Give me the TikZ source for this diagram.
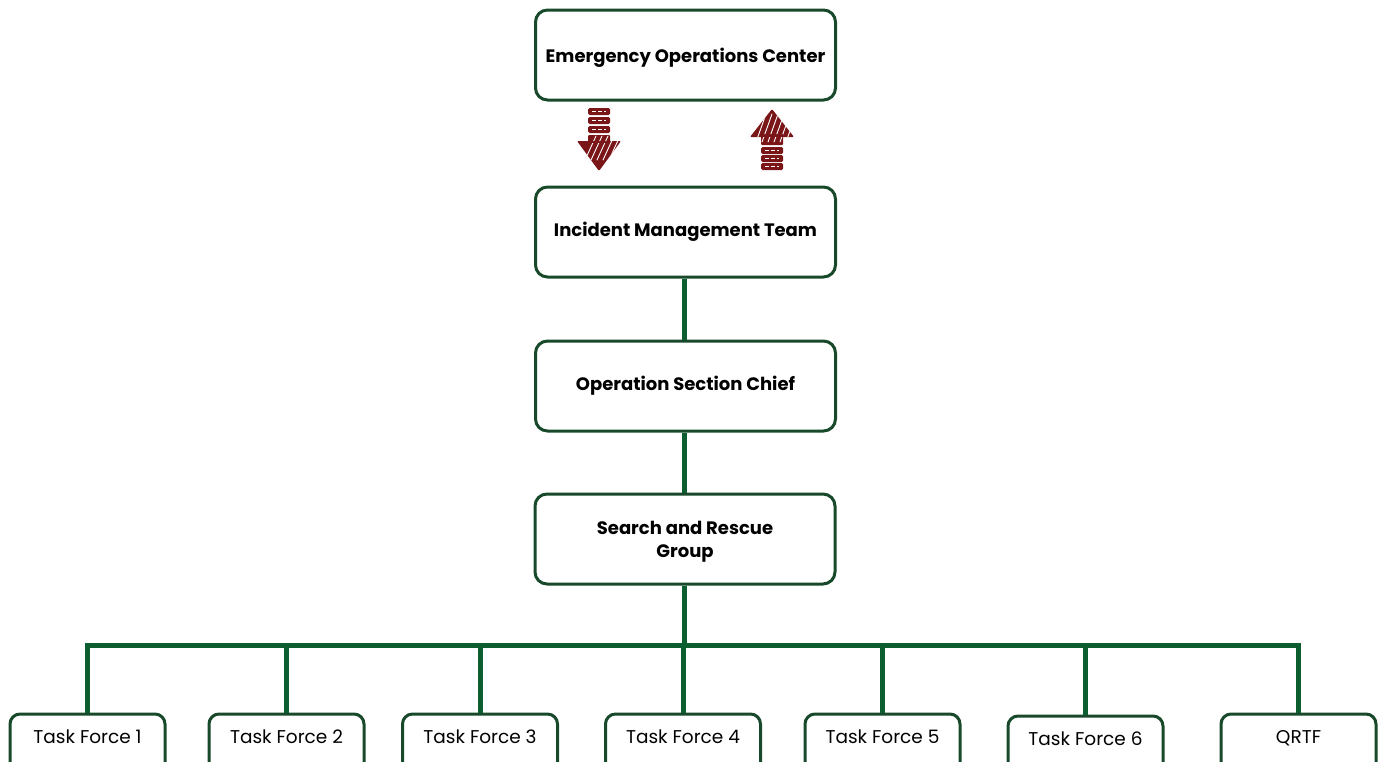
\documentclass[tikz,border=0pt]{standalone}
\usepackage{fontspec}
\setmainfont{Poppins}
\definecolor{boxgreen}{HTML}{17492A}
\definecolor{linkgreen}{HTML}{0C5E31}
\definecolor{arrowred}{HTML}{7A1518}
\tikzset{
  unitbox/.style={draw=boxgreen, line width=3pt, rounded corners=12pt, fill=white,
    minimum width=300pt, minimum height=90pt, align=center, inner sep=0pt,
    font=\bfseries\fontsize{18}{23}\selectfont},
  taskbox/.style={draw=boxgreen, line width=3pt, rounded corners=10pt, fill=white,
    minimum width=155pt, minimum height=60pt, inner sep=0pt,
    text height=12pt, text depth=14pt, font=\fontsize{18.5}{20}\selectfont},
  link/.style={draw=linkgreen, line width=5pt},
  hatch/.style={white, line width=0.9pt, line cap=round},
  dash line/.style={white, line width=0.6pt, dash pattern=on 4pt off 2pt},
}
\begin{document}
\begin{tikzpicture}[x=1pt, y=-1pt]
\useasboundingbox (0,0) rectangle (1381,761);
\clip (0,0) rectangle (1381,761);

% command chain
\node[unitbox, text depth=0pt] (eoc) at (685.5,55)  {Emergency Operations Center};
\node[unitbox] (imt) at (685.5,232) {Incident Management Team};
\node[unitbox] (osc) at (685.5,386) {Operation Section Chief};
\node[unitbox, text depth=0pt] (srg) at (685,539)   {Search and Rescue\\Group};

% field units
\node[taskbox] (tf1)  at (87.5,744)   {Task Force 1};
\node[taskbox] (tf2)  at (286.5,744)  {Task Force 2};
\node[taskbox] (tf3)  at (480,744)    {Task Force 3};
\node[taskbox] (tf4)  at (683,744)    {Task Force 4};
\node[taskbox] (tf5)  at (882.5,744)  {Task Force 5};
\node[taskbox] (tf6)  at (1085.5,746) {Task Force 6};
\node[taskbox] (qrtf) at (1298.5,744) {QRTF};

% links
\coordinate (bus) at (684,645);
\draw[link] ([xshift=-1.5pt]imt.south) -- ([xshift=-1.5pt]osc.north);
\draw[link] ([xshift=-1.5pt]osc.south) -- ([xshift=-1pt]srg.north);
\draw[link] ([xshift=-1pt]srg.south) -- (bus);
\draw[link] (tf1.north) -- (tf1.north |- bus) -- (qrtf.north |- bus) -- (qrtf.north);
\foreach \t in {tf2,tf3,tf4,tf5,tf6}
  \draw[link] (\t.north |- bus) -- (\t.north);

% downward flow arrow (EOC to IMT)
\begin{scope}[arrowred]
  \foreach \y in {108,117,126}
    \fill[rounded corners=1.5pt] (588,\y) rectangle (610,\y+7);
  \fill[rounded corners=1pt] (588,135) rectangle (610,143);
  \fill[rounded corners=1pt] (577,141) -- (621,141) -- (599,171) -- cycle;
\end{scope}
\foreach \y in {111.5,120.5,129.5}
  \draw[dash line] (592,\y) -- (606,\y);
\begin{scope}
  \clip (588,135) rectangle (610,143) (577,141) -- (621,141) -- (599,171) -- cycle;
  \foreach \d in {0,6,...,36}
    \draw[hatch] (585+\d,160) -- (596+\d,136);
\end{scope}

% upward flow arrow (IMT to EOC)
\begin{scope}[arrowred]
  \fill[rounded corners=1pt] (750,137) -- (772,109) -- (794,137) -- cycle;
  \fill[rounded corners=1pt] (761,134) rectangle (783,145);
  \foreach \y in {147,155,163}
    \fill[rounded corners=1.5pt] (761,\y) rectangle (783,\y+7);
\end{scope}
\foreach \y in {150.5,158.5,166.5}
  \draw[dash line] (765,\y) -- (779,\y);
\begin{scope}
  \clip (750,137) -- (772,109) -- (794,137) -- cycle (761,134) rectangle (783,145);
  \foreach \d in {0,6,...,36}
    \draw[hatch] (756+\d,142) -- (766+\d,114);
\end{scope}
\end{tikzpicture}
\end{document}
